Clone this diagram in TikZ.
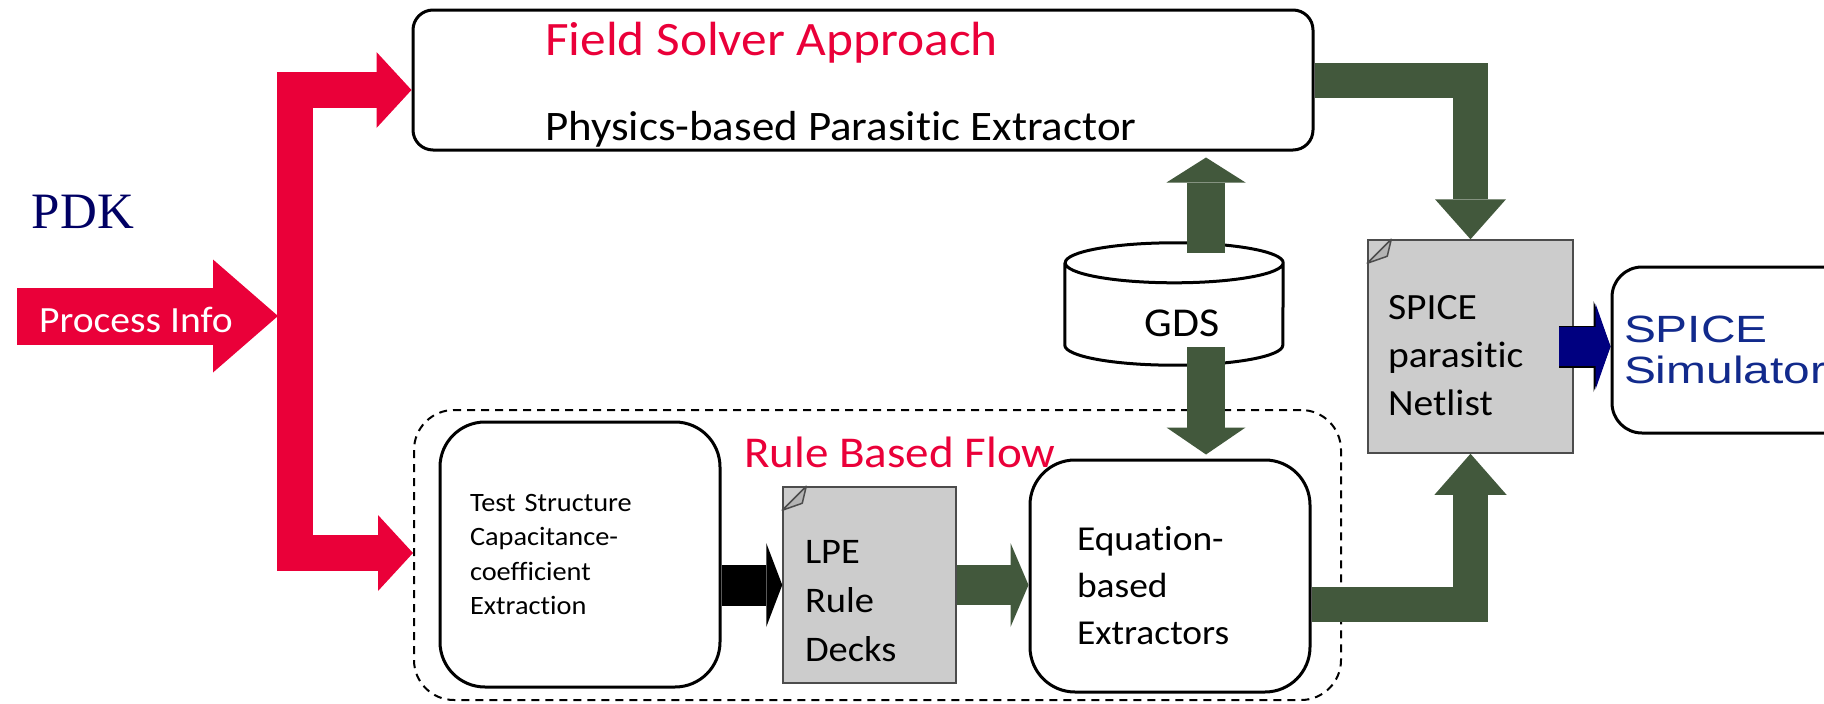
\documentclass[tikz,border=0pt]{standalone}
\usepackage{fontspec}
\setmainfont{Carlito}[FakeStretch=1.07, Ligatures=NoCommon]
\newfontfamily\pdkfont{Liberation Serif}
\newfontfamily\simfont{Liberation Sans}[FakeStretch=1.26]
\usepackage{tikz}
\usetikzlibrary{arrows.meta,shapes.misc,calc}

\definecolor{pdkred}{RGB}{234,0,57}
\definecolor{flowgreen}{RGB}{66,88,60}
\definecolor{docgray}{RGB}{204,204,204}
\definecolor{foldgray}{RGB}{180,180,180}
\definecolor{simblue}{RGB}{0,0,128}
\definecolor{simtext}{RGB}{18,42,140}
\definecolor{pdknavy}{RGB}{0,0,100}

\newcommand{\fsz}[2]{\fontsize{#1bp}{#2bp}\selectfont}

\begin{document}
\begin{tikzpicture}[line cap=butt, line join=miter, inner sep=0pt,
	box/.style={draw, line width=3bp, rounded corners=#1},
	box/.default=45bp,
	doc/.style={chamfered rectangle, chamfered rectangle corners=north west,
		chamfered rectangle sep=24bp, draw=black!70, line width=1.5bp, fill=docgray},
	fold/.style={draw=black!70, line width=1.5bp, fill=foldgray, line join=round},
	fat/.style n args={3}{line width=#1, -{Triangle[length=#2, width=#3, line width=0pt]}}]
	\useasboundingbox (0bp,0bp) rectangle (1824bp,-704bp);

	\node (flow)  at (877.5bp,-555bp)  [box=40bp, line width=2bp, dash pattern=on 8bp off 6bp, minimum width=927bp, minimum height=290bp] {};
	\node (field) at (863bp,-80bp)     [box=20bp, minimum width=900bp, minimum height=140bp] {};
	\node (test)  at (580bp,-554.5bp)  [box, minimum width=280bp, minimum height=265bp, text width=220bp, align=left, font=\fsz{26.5}{34.5}] {Test Structure\\Capacitance-\\coefficient\\Extraction};
	\node (lpe)   at (869.5bp,-585bp)  [doc, minimum width=173bp, minimum height=196bp] {};
	\node (eq)    at (1170bp,-576bp)   [box, minimum width=280bp, minimum height=232bp] {};
	\node (gds)   at (1174bp,-304bp)   [minimum width=218bp, minimum height=122bp] {};
	\node (net)   at (1470.5bp,-346.5bp) [doc, minimum width=205bp, minimum height=213bp] {};
	\node (sim)   at (1736bp,-350bp)   [box=30bp, minimum width=248bp, minimum height=166bp, text width=224bp, align=left, text=simtext, font=\simfont\fsz{38}{41}] {SPICE\\Simulator};

	% the GDS drum
	\draw [line width=3bp, fill=white] ($(gds.north west)+(0,-20bp)$) -- ($(gds.south west)+(0,20bp)$)
		arc (180:360:109bp and 20bp) -- ($(gds.north east)+(0,-20bp)$)
		arc (0:180:109bp and 20bp) arc (180:360:109bp and 20bp);

	% dog-ears
	\draw [fold] ($(lpe.west |- lpe.north)+(24bp,0)$) -- ($(lpe.west |- lpe.north)+(20bp,-17bp)$) -- ($(lpe.west |- lpe.north)+(0,-24bp)$) -- cycle;
	\draw [fold] ($(net.west |- net.north)+(24bp,0)$) -- ($(net.west |- net.north)+(20bp,-17bp)$) -- ($(net.west |- net.north)+(0,-24bp)$) -- cycle;

	% red feed from the PDK
	\coordinate (pin)   at (17bp,-316bp);
	\coordinate (trunk) at (278bp,-316bp);
	\coordinate (fork)  at (295bp,-553bp);
	\draw [draw=pdkred, fat={57bp}{65bp}{113bp}] (pin) -- (trunk);
	\draw [draw=pdkred, line width=36bp, {Triangle[length=35bp, width=76bp, line width=0pt]}-{Triangle[length=35bp, width=76bp, line width=0pt]}] ([yshift=-10bp]field.west) -| (fork) -- (fork -| flow.west);

	% flow arrows
	\draw [draw=black, fat={41bp}{16bp}{84bp}] (test.east |- lpe.west) -- (lpe.west);
	\draw [draw=flowgreen, fat={40bp}{18bp}{84bp}] (lpe.east) -- (lpe.east -| eq.west);
	\draw [draw=flowgreen, fat={35bp}{40bp}{71bp}] (field.east) -| (net.north);
	\draw [draw=flowgreen, fat={35bp}{41bp}{72bp}] ([yshift=-28bp]eq.east) -| (net.south);
	\draw [draw=flowgreen, fat={38bp}{25bp}{79bp}] ([xshift=32bp,yshift=-10bp]gds.north) coordinate (gup) -- ($(gup |- field.south)+(0,-6bp)$);
	\draw [draw=flowgreen, fat={38bp}{27bp}{79bp}] ([xshift=32bp,yshift=18bp]gds.south) coordinate (gdn) -- ($(gdn |- eq.north)+(0,4bp)$);
	\draw [draw=simblue, fat={39bp}{15bp}{86bp}, preaction={draw=black, line width=42bp, -{Triangle[length=17bp, width=91bp, line width=0pt]}}] ([xshift=-15bp]net.east) -- (net.east -| sim.west);

	% labels
	\node (pdk)        at (83bp,-212bp)   [font=\pdkfont\fsz{51}{51}, text=pdknavy] {PDK};
	\node (proc)       at (39bp,-332bp)   [anchor=base west, text=white, font=\fsz{37}{37}] {Process Info};
	\node (fieldtitle) at (545bp,-55bp)   [anchor=base west, text=pdkred, font=\fsz{48}{48}] {Field Solver Approach};
	\node (fieldsub)   at (545bp,-140bp)  [anchor=base west, font=\fsz{42}{42}] {Physics-based Parasitic Extractor};
	\node (flowtitle)  at (744bp,-467bp)  [anchor=base west, text=pdkred, font=\fsz{44}{44}] {Rule Based Flow};
	\node (gdstext)    at (1182bp,-323bp) [font=\fsz{41}{41}] {GDS};
	\node (lpetext)    at (869.5bp,-601bp) [text width=129bp, align=left, font=\fsz{36}{49}] {LPE\\Rule\\Decks};
	\node (eqtext)     at (1170bp,-586bp) [text width=186bp, align=left, font=\fsz{35}{47}] {Equation-\\based\\Extractors};
	\node (nettext)    at (1470.5bp,-356bp) [text width=165bp, align=left, font=\fsz{37}{48}] {SPICE\\parasitic\\Netlist};
\end{tikzpicture}
\end{document}
